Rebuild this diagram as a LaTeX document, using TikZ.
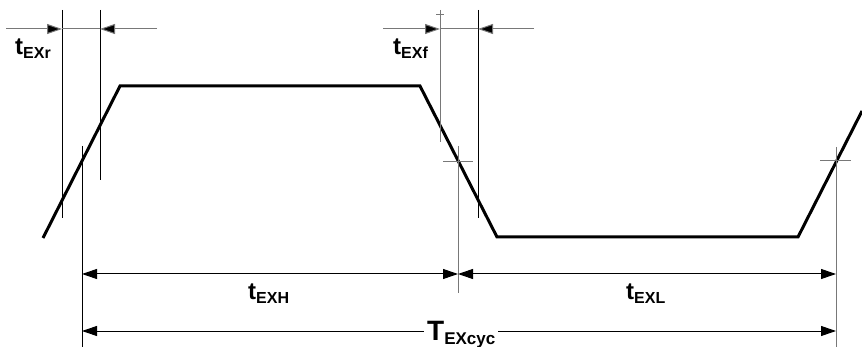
\documentclass[tikz,border=0pt]{standalone}
\usepackage{fontspec}
\setmainfont{Liberation Sans}
\usetikzlibrary{arrows.meta}
\definecolor{lgray}{RGB}{120,120,120}
\newcommand{\lbl}[2]{\bfseries\fontsize{24}{24}\selectfont #1\raisebox{-4pt}{\fontsize{16}{16}\selectfont #2}}
\newcommand{\biglbl}[2]{\bfseries\fontsize{28}{28}\selectfont #1\raisebox{-4pt}{\fontsize{17}{17}\selectfont #2}}
\tikzset{
  wave/.style={line width=3pt, line join=miter},
  thin/.style={line width=1pt, draw=black},
  thingray/.style={line width=1pt, draw=lgray},
  dim/.style={line width=1pt, {Triangle[length=15pt,width=10pt]}-{Triangle[length=15pt,width=10pt]}},
  toarrow/.style={line width=1pt, draw=lgray, -{Triangle[length=15pt,width=10pt,fill=black]}},
  lab/.style={anchor=base west, inner sep=0pt},
}
\begin{document}
\begin{tikzpicture}[x=1pt,y=-1pt]
\useasboundingbox (0,0) rectangle (862,347);
% waveform
\coordinate (w0) at (43,238);
\coordinate (w1) at (120,86);
\coordinate (w2) at (420,86);
\coordinate (w3) at (497,237);
\coordinate (w4) at (798,237);
\coordinate (w5) at (862,111);
\draw[wave] (w0) -- (w1) -- (w2) -- (w3) -- (w4) -- (w5);
% vertical reference lines
\coordinate (a1) at (62,10);  \coordinate (a2) at (62,218);
\coordinate (b1) at (100,10); \coordinate (b2) at (100,180);
\coordinate (c1) at (82,146); \coordinate (c2) at (82,347);
\coordinate (d1) at (440,10); \coordinate (d2) at (440,142);
\coordinate (e1) at (478,10); \coordinate (e2) at (478,218);
\coordinate (f1) at (458,146); \coordinate (f2) at (458,293);
\coordinate (g1) at (836,147); \coordinate (g2) at (836,347);
\draw[thin] (a1) -- (a2);
\draw[thin] (b1) -- (b2);
\draw[thin] (c1) -- (c2);
\draw[thingray] (d1) -- (d2);
\draw[thin] (e1) -- (e2);
\draw[thingray] (f1) -- (f2);
\draw[thingray] (g1) -- (g2);
% crosshair ticks
\coordinate (dt1) at (436,15); \coordinate (dt2) at (444,15);
\coordinate (ft1) at (443,162); \coordinate (ft2) at (473,162);
\coordinate (gt1) at (820,161); \coordinate (gt2) at (851,161);
\draw[thingray] (dt1) -- (dt2);
\draw[thingray] (ft1) -- (ft2);
\draw[thingray] (gt1) -- (gt2);
% top arrows t_EXr
\coordinate (r0) at (6,29); \coordinate (r1) at (62,29);
\coordinate (r2) at (100,29); \coordinate (r3) at (157,29);
\draw[toarrow] (r0) -- (r1);
\draw[toarrow] (r3) -- (r2);
\draw[thingray] (r1) -- (r2);
% top arrows t_EXf
\coordinate (s0) at (383,29); \coordinate (s1) at (440,29);
\coordinate (s2) at (478,29); \coordinate (s3) at (534,29);
\draw[toarrow] (s0) -- (s1);
\draw[toarrow] (s3) -- (s2);
\draw[thingray] (s1) -- (s2);
% dimension arrows
\coordinate (h1) at (82,274); \coordinate (h2) at (458,274); \coordinate (h3) at (836,274);
\coordinate (k1) at (82,331); \coordinate (k2) at (836,331);
\draw[dim] (h1) -- (h2);
\draw[dim] (h2) -- (h3);
\draw[dim] (k1) -- (k2);
% labels
\node[lab] (lr) at (15,55) {\lbl{t}{EXr}};
\node[lab] (lf) at (393,55) {\lbl{t}{EXf}};
\node[lab] (lh) at (248,300) {\lbl{t}{EXH}};
\node[lab] (ll) at (626,300) {\lbl{t}{EXL}};
\node[lab, fill=white, inner xsep=3pt, inner ysep=1pt] (lc) at (424,340) {\biglbl{T}{EXcyc}};
\end{tikzpicture}
\end{document}
